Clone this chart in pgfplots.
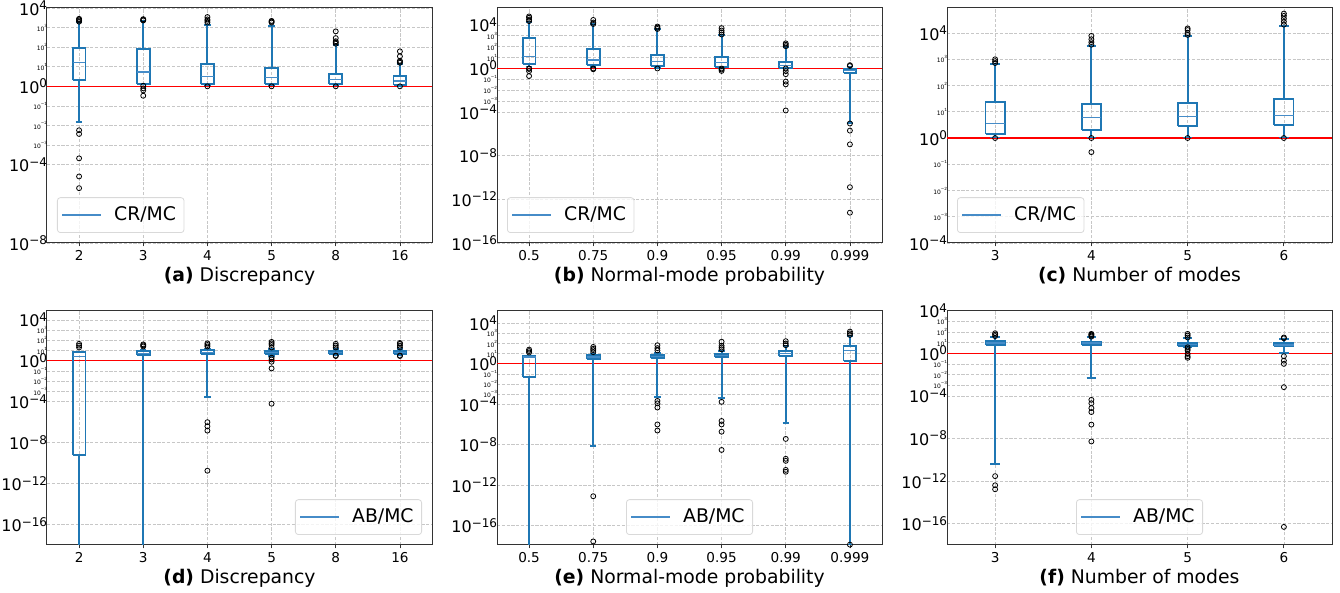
\documentclass[border=0pt]{standalone}
\usepackage{fontspec}
\setmainfont{DejaVu Sans}
\usepackage{pgfplots}
\pgfplotsset{compat=1.18}
\definecolor{mplblue}{RGB}{31,119,180}
\definecolor{legblue}{RGB}{70,140,200}

% tick labels: big (major) and tiny (minor) powers of ten
\newcommand{\Ma}[1]{\fontsize{8}{9}\selectfont 10\textsuperscript{#1}}
\newcommand{\Mi}[1]{\fontsize{3}{3.5}\selectfont 10\textsuperscript{#1}}

\pgfplotsset{
  mypanel/.style={
    scale only axis, width=192.5pt,
    xmin=0.5, xmax=6.5, xtick={1,...,6},
    yminorticks=false,
    axis line style={black!80, line width=0.5pt},
    tick pos=left, tick align=outside, major tick length=1.75pt,
    tick style={black!80, line width=0.4pt}, ytick style={draw=none},
    grid=major, major grid style={dash pattern=on 1.6pt off 0.8pt, black!22, line width=0.3pt},
    xticklabel style={font=\fontsize{6.8}{8}\selectfont, yshift=1.5pt},
    yticklabel style={inner xsep=1pt, xshift=3.5pt},
    xlabel style={font=\fontsize{9.4}{11}\selectfont, at={(axis description cs:0.5,0)}, anchor=north, yshift=-8.8pt},
    legend style={font=\fontsize{9.4}{11}\selectfont, draw=black!15, rounded corners=1.5pt,
      fill=white, fill opacity=0.8, text opacity=1, inner xsep=2pt, inner ysep=2.5pt},
  },
  bxl/.style={draw=mplblue, line width=0.95pt, unbounded coords=jump, forget plot},
  med/.style={draw=legblue, line width=0.65pt, unbounded coords=jump, forget plot},
  ol/.style={only marks, mark=o, mark size=1.25pt, mark options={draw=black, line width=0.4pt}, forget plot},
  one/.style={red, line width=0.6pt, forget plot},
  tkA/.style={ytick={1e-8,1e-4,1e-3,1e-2,1e-1,1,10,100,1000,1e4},
    yticklabels={\Ma{−8},\Ma{−4},\Mi{−3},\Mi{−2},\Mi{−1},\Ma{0},\Mi{1},\Mi{2},\Mi{3},\Ma{4}}},
  tkB/.style={ytick={1e-16,1e-12,1e-8,1e-4,1e-3,1e-2,1e-1,1,10,100,1000,1e4},
    yticklabels={\Ma{−16},\Ma{−12},\Ma{−8},\Ma{−4},\Mi{−3},\Mi{−2},\Mi{−1},\Ma{0},\Mi{1},\Mi{2},\Mi{3},\Ma{4}}},
  tkC/.style={ytick={1e-4,1e-3,1e-2,1e-1,1,10,100,1000,1e4},
    yticklabels={\Ma{−4},\Mi{−3},\Mi{−2},\Mi{−1},\Ma{0},\Mi{1},\Mi{2},\Mi{3},\Ma{4}}},
}

\begin{document}
\begin{tikzpicture}
\useasboundingbox (0,0) rectangle (670pt,296.5pt);

% (a) CR/MC vs discrepancy
\begin{axis}[mypanel, ymode=log, at={(23.5pt,175pt)}, anchor=south west, height=117.5pt,
  ymin=1e-8, ymax=1e4, tkA,
  xticklabels={2,3,4,5,8,16}, xlabel={\textbf{(a)} Discrepancy},
  legend style={at={(0,0)}, anchor=south west, xshift=5pt, yshift=5pt}]
\addplot[one] coordinates {(0.5,1) (6.5,1)};
\addplot[bxl] coordinates {(0.9,2.2)(1.1,2.2)(1.1,93)(0.9,93)(0.9,2.2) (1,nan) (1,93)(1,1900) (1,nan) (0.95,1900)(1.05,1900) (1,nan) (1,2.2)(1,0.0158) (1,nan) (0.95,0.0158)(1.05,0.0158)};
\addplot[bxl] coordinates {(1.9,1.37)(2.1,1.37)(2.1,80)(1.9,80)(1.9,1.37) (2,nan) (2,80)(2,2200) (2,nan) (1.95,2200)(2.05,2200) (2,nan) (2,1.37)(2,1.25) (2,nan) (1.95,1.25)(2.05,1.25)};
\addplot[bxl] coordinates {(2.9,1.37)(3.1,1.37)(3.1,13.8)(2.9,13.8)(2.9,1.37) (3,nan) (3,13.8)(3,1400) (3,nan) (2.95,1400)(3.05,1400) (3,nan) (3,1.37)(3,1.1) (3,nan) (2.95,1.1)(3.05,1.1)};
\addplot[bxl] coordinates {(3.9,1.3)(4.1,1.3)(4.1,8.3)(3.9,8.3)(3.9,1.3) (4,nan) (4,8.3)(4,1150) (4,nan) (3.95,1150)(4.05,1150) (4,nan) (4,1.3)(4,1.1) (4,nan) (3.95,1.1)(4.05,1.1)};
\addplot[bxl] coordinates {(4.9,1.27)(5.1,1.27)(5.1,4.1)(4.9,4.1)(4.9,1.27) (5,nan) (5,4.1)(5,130) (5,nan) (4.95,130)(5.05,130) (5,nan) (5,1.27)(5,1.1) (5,nan) (4.95,1.1)(5.05,1.1)};
\addplot[bxl] coordinates {(5.9,1.17)(6.1,1.17)(6.1,3.2)(5.9,3.2)(5.9,1.17) (6,nan) (6,3.2)(6,14) (6,nan) (5.95,14)(6.05,14) (6,nan) (6,1.17)(6,1.05) (6,nan) (5.95,1.05)(6.05,1.05)};
\addplot[med] coordinates {(0.9,16.7)(1.1,16.7) (1,nan) (1.9,5.4)(2.1,5.4) (2,nan) (2.9,3.2)(3.1,3.2) (3,nan) (3.9,2.9)(4.1,2.9) (4,nan) (4.9,2.2)(5.1,2.2) (5,nan) (5.9,1.9)(6.1,1.9)};
\addplot[ol] table[row sep=\\] {x y\\ 1 2000\\ 1 2300\\ 1 2600\\ 1 2800\\ 1 0.0057\\ 1 0.0037\\ 1 2.1e-4\\ 1 2.5e-5\\ 1 6.3e-6\\
  2 2300\\ 2 2500\\ 2 2700\\ 2 1.07\\ 2 0.79\\ 2 0.62\\ 2 0.33\\
  3 1800\\ 3 2200\\ 3 2600\\ 3 3450\\ 3 1.0\\
  4 1800\\ 4 2000\\ 4 2200\\ 4 1.0\\
  5 150\\ 5 175\\ 5 200\\ 5 290\\ 5 640\\ 5 1.0\\
  6 16\\ 6 18\\ 6 20\\ 6 34\\ 6 61\\ 6 1.0\\};
\addlegendimage{draw=legblue, line width=0.75pt, xscale=1.15}
\addlegendentry{\hspace{4pt}CR/MC}
\end{axis}

% (b) CR/MC vs normal-mode probability
\begin{axis}[mypanel, ymode=log, at={(248.5pt,175pt)}, anchor=south west, height=117.5pt,
  ymin=1e-16, ymax=3.5e5, tkB,
  xticklabels={0.5,0.75,0.9,0.95,0.99,0.999}, xlabel={\textbf{(b)} Normal-mode probability},
  legend style={at={(0,0)}, anchor=south west, xshift=5pt, yshift=5pt}]
\addplot[one] coordinates {(0.5,1) (6.5,1)};
\addplot[bxl] coordinates {(0.9,2.5)(1.1,2.5)(1.1,630)(0.9,630)(0.9,2.5) (1,nan) (1,630)(1,1.8e4) (1,nan) (0.95,1.8e4)(1.05,1.8e4) (1,nan) (1,2.5)(1,1.5) (1,nan) (0.95,1.5)(1.05,1.5)};
\addplot[bxl] coordinates {(1.9,2)(2.1,2)(2.1,61)(1.9,61)(1.9,2) (2,nan) (2,61)(2,1.1e4) (2,nan) (1.95,1.1e4)(2.05,1.1e4) (2,nan) (2,2)(2,1.3) (2,nan) (1.95,1.3)(2.05,1.3)};
\addplot[bxl] coordinates {(2.9,1.6)(3.1,1.6)(3.1,18)(2.9,18)(2.9,1.6) (3,nan) (3,18)(3,3800) (3,nan) (2.95,3800)(3.05,3800) (3,nan) (3,1.6)(3,1.1) (3,nan) (2.95,1.1)(3.05,1.1)};
\addplot[bxl] coordinates {(3.9,1.4)(4.1,1.4)(4.1,12)(3.9,12)(3.9,1.4) (4,nan) (4,12)(4,1100) (4,nan) (3.95,1100)(4.05,1100) (4,nan) (4,1.4)(4,1.05) (4,nan) (3.95,1.05)(4.05,1.05)};
\addplot[bxl] coordinates {(4.9,1.15)(5.1,1.15)(5.1,4.1)(4.9,4.1)(4.9,1.15) (5,nan) (5,4.1)(5,90) (5,nan) (4.95,90)(5.05,90) (5,nan) (5,1.15)(5,1.02) (5,nan) (4.95,1.02)(5.05,1.02)};
\addplot[bxl] coordinates {(5.9,0.4)(6.1,0.4)(6.1,0.87)(5.9,0.87)(5.9,0.4) (6,nan) (6,0.87)(6,1.5) (6,nan) (5.95,1.5)(6.05,1.5) (6,nan) (6,0.4)(6,1e-5) (6,nan) (5.95,1e-5)(6.05,1e-5)};
\addplot[med] coordinates {(0.9,12)(1.1,12) (1,nan) (1.9,5.9)(2.1,5.9) (2,nan) (2.9,4.1)(3.1,4.1) (3,nan) (3.9,3.3)(4.1,3.3) (4,nan) (4.9,2)(5.1,2) (5,nan) (5.9,0.7)(6.1,0.7)};
\addplot[ol] table[row sep=\\] {x y\\ 1 2.2e4\\ 1 3e4\\ 1 4.5e4\\ 1 5.9e4\\ 1 1.0\\ 1 0.9\\ 1 0.57\\ 1 0.2\\
  2 1.2e4\\ 2 1.6e4\\ 2 2.8e4\\ 2 1.0\\ 2 0.85\\
  3 4200\\ 3 5500\\ 3 7000\\ 3 1.0\\
  4 1300\\ 4 2000\\ 4 3000\\ 4 5000\\ 4 1.0\\ 4 0.8\\ 4 0.6\\
  5 110\\ 5 150\\ 5 200\\ 5 1.0\\ 5 0.57\\ 5 0.3\\ 5 0.063\\ 5 0.035\\ 5 1.4e-4\\
  6 1.7\\ 6 2.0\\ 6 9e-6\\ 6 2e-6\\ 6 1.1e-7\\ 6 1.3e-11\\ 6 6e-14\\};
\addlegendimage{draw=legblue, line width=0.75pt, xscale=1.15}
\addlegendentry{\hspace{4pt}CR/MC}
\end{axis}

% (c) CR/MC vs number of modes
\begin{axis}[mypanel, ymode=log, at={(473.5pt,175pt)}, anchor=south west, height=117.5pt,
  ymin=1e-4, ymax=9e4, tkC,
  xmin=0.5, xmax=4.5, xtick={1,...,4}, xticklabels={3,4,5,6}, xlabel={\textbf{(c)} Number of modes},
  legend style={at={(0,0)}, anchor=south west, xshift=5pt, yshift=5pt}]
\addplot[one] coordinates {(0.5,1) (4.5,1)};
\addplot[bxl] coordinates {(0.9,1.38)(1.1,1.38)(1.1,23)(0.9,23)(0.9,1.38) (1,nan) (1,23)(1,650) (1,nan) (0.95,650)(1.05,650) (1,nan) (1,1.38)(1,1.05) (1,nan) (0.95,1.05)(1.05,1.05)};
\addplot[bxl] coordinates {(1.9,2.1)(2.1,2.1)(2.1,19.5)(1.9,19.5)(1.9,2.1) (2,nan) (2,19.5)(2,3100) (2,nan) (1.95,3100)(2.05,3100) (2,nan) (2,2.1)(2,1.05) (2,nan) (1.95,1.05)(2.05,1.05)};
\addplot[bxl] coordinates {(2.9,2.8)(3.1,2.8)(3.1,21)(2.9,21)(2.9,2.8) (3,nan) (3,21)(3,7800) (3,nan) (2.95,7800)(3.05,7800) (3,nan) (3,2.8)(3,1.05) (3,nan) (2.95,1.05)(3.05,1.05)};
\addplot[bxl] coordinates {(3.9,3.2)(4.1,3.2)(4.1,29.5)(3.9,29.5)(3.9,3.2) (4,nan) (4,29.5)(4,1.9e4) (4,nan) (3.95,1.9e4)(4.05,1.9e4) (4,nan) (4,3.2)(4,1.05) (4,nan) (3.95,1.05)(4.05,1.05)};
\addplot[med] coordinates {(0.9,3.5)(1.1,3.5) (1,nan) (1.9,6)(2.1,6) (2,nan) (2.9,6.8)(3.1,6.8) (3,nan) (3.9,7.2)(4.1,7.2)};
\addplot[ol] table[row sep=\\] {x y\\ 1 720\\ 1 850\\ 1 1000\\ 1 1.0\\
  2 3600\\ 2 4500\\ 2 5800\\ 2 7800\\ 2 1.0\\ 2 0.29\\
  3 8500\\ 3 1e4\\ 3 1.3e4\\ 3 1.5e4\\ 3 1.0\\
  4 2.1e4\\ 4 2.7e4\\ 4 3.5e4\\ 4 4.5e4\\ 4 5.5e4\\ 4 1.0\\};
\addlegendimage{draw=legblue, line width=0.75pt, xscale=1.15}
\addlegendentry{\hspace{4pt}CR/MC}
\end{axis}

% (d) AB/MC vs discrepancy
\begin{axis}[mypanel, ymode=log, at={(23.5pt,24pt)}, anchor=south west, height=117.2pt,
  ymin=1e-18, ymax=8e4, tkB,
  xticklabels={2,3,4,5,8,16}, xlabel={\textbf{(d)} Discrepancy},
  legend style={at={(1,0)}, anchor=south east, xshift=-5pt, yshift=5pt}]
\addplot[one] coordinates {(0.5,1) (6.5,1)};
\addplot[bxl] coordinates {(0.9,6e-10)(1.1,6e-10)(1.1,6.6)(0.9,6.6)(0.9,6e-10) (1,nan) (1,6.6)(1,8) (1,nan) (0.95,8)(1.05,8) (1,nan) (1,6e-10)(1,1e-22)};
\addplot[bxl] coordinates {(1.9,3.6)(2.1,3.6)(2.1,9)(1.9,9)(1.9,3.6) (2,nan) (2,9)(2,11) (2,nan) (1.95,11)(2.05,11) (2,nan) (2,3.6)(2,1e-22)};
\addplot[bxl] coordinates {(2.9,4.5)(3.1,4.5)(3.1,10.4)(2.9,10.4)(2.9,4.5) (3,nan) (3,10.4)(3,13) (3,nan) (2.95,13)(3.05,13) (3,nan) (3,4.5)(3,2.7e-4) (3,nan) (2.95,2.7e-4)(3.05,2.7e-4)};
\addplot[bxl] coordinates {(3.9,4.5)(4.1,4.5)(4.1,9.6)(3.9,9.6)(3.9,4.5) (4,nan) (4,9.6)(4,13) (4,nan) (3.95,13)(4.05,13) (4,nan) (4,4.5)(4,3) (4,nan) (3.95,3)(4.05,3)};
\addplot[bxl] coordinates {(4.9,4.2)(5.1,4.2)(5.1,9)(4.9,9)(4.9,4.2) (5,nan) (5,9)(5,13) (5,nan) (4.95,13)(5.05,13) (5,nan) (5,4.2)(5,3.5) (5,nan) (4.95,3.5)(5.05,3.5)};
\addplot[bxl] coordinates {(5.9,4.2)(6.1,4.2)(6.1,9)(5.9,9)(5.9,4.2) (6,nan) (6,9)(6,13) (6,nan) (5.95,13)(6.05,13) (6,nan) (6,4.2)(6,3.5) (6,nan) (5.95,3.5)(6.05,3.5)};
\addplot[med] coordinates {(0.9,2.5)(1.1,2.5) (1,nan) (1.9,5)(2.1,5) (2,nan) (2.9,6.6)(3.1,6.6) (3,nan) (3.9,6.6)(4.1,6.6) (4,nan) (4.9,6.4)(5.1,6.4) (5,nan) (5.9,6.4)(6.1,6.4)};
\addplot[ol] table[row sep=\\] {x y\\ 1 20\\ 1 30\\ 1 45\\
  2 25\\ 2 32\\ 2 40\\
  3 25\\ 3 35\\ 3 50\\ 3 1e-6\\ 3 4e-7\\ 3 1.5e-7\\ 3 1.8e-11\\
  4 20\\ 4 35\\ 4 50\\ 4 70\\ 4 2\\ 4 1.35\\ 4 0.8\\ 4 0.18\\ 4 6.3e-5\\
  5 20\\ 5 30\\ 5 45\\ 5 3.2\\ 5 2.9\\
  6 20\\ 6 30\\ 6 45\\ 6 55\\ 6 3.2\\ 6 2.9\\};
\addlegendimage{draw=legblue, line width=0.75pt, xscale=1.15}
\addlegendentry{\hspace{4pt}AB/MC}
\end{axis}

% (e) AB/MC vs normal-mode probability
\begin{axis}[mypanel, ymode=log, at={(248.5pt,24pt)}, anchor=south west, height=117.2pt,
  ymin=1.2e-18, ymax=1.8e5, tkB,
  xticklabels={0.5,0.75,0.9,0.95,0.99,0.999}, xlabel={\textbf{(e)} Normal-mode probability},
  legend style={at={(0.5,0)}, anchor=south, yshift=5pt}]
\addplot[one] coordinates {(0.5,1) (6.5,1)};
\addplot[bxl] coordinates {(0.9,0.05)(1.1,0.05)(1.1,5.4)(0.9,5.4)(0.9,0.05) (1,nan) (1,5.4)(1,6) (1,nan) (0.95,6)(1.05,6) (1,nan) (1,0.05)(1,1e-22)};
\addplot[bxl] coordinates {(1.9,3.2)(2.1,3.2)(2.1,6.8)(1.9,6.8)(1.9,3.2) (2,nan) (2,6.8)(2,9) (2,nan) (1.95,9)(2.05,9) (2,nan) (2,3.2)(2,6.8e-9) (2,nan) (1.95,6.8e-9)(2.05,6.8e-9)};
\addplot[bxl] coordinates {(2.9,3.7)(3.1,3.7)(3.1,8)(2.9,8)(2.9,3.7) (3,nan) (3,8)(3,12) (3,nan) (2.95,12)(3.05,12) (3,nan) (3,3.7)(3,5.4e-4) (3,nan) (2.95,5.4e-4)(3.05,5.4e-4)};
\addplot[bxl] coordinates {(3.9,4.6)(4.1,4.6)(4.1,10)(3.9,10)(3.9,4.6) (4,nan) (4,10)(4,20) (4,nan) (3.95,20)(4.05,20) (4,nan) (4,4.6)(4,4e-4) (4,nan) (3.95,4e-4)(4.05,4e-4)};
\addplot[bxl] coordinates {(4.9,5.8)(5.1,5.8)(5.1,18)(4.9,18)(4.9,5.8) (5,nan) (5,18)(5,60) (5,nan) (4.95,60)(5.05,60) (5,nan) (5,5.8)(5,1.3e-6) (5,nan) (4.95,1.3e-6)(5.05,1.3e-6)};
\addplot[bxl] coordinates {(5.9,2)(6.1,2)(6.1,58)(5.9,58)(5.9,2) (6,nan) (6,58)(6,600) (6,nan) (5.95,600)(6.05,600) (6,nan) (6,2)(6,1.35e-18) (6,nan) (5.95,1.35e-18)(6.05,1.35e-18)};
\addplot[med] coordinates {(0.9,4.5)(1.1,4.5) (1,nan) (1.9,4.6)(2.1,4.6) (2,nan) (2.9,5.5)(3.1,5.5) (3,nan) (3.9,6.5)(4.1,6.5) (4,nan) (4.9,10)(5.1,10) (5,nan) (5.9,21)(6.1,21)};
\addplot[ol] table[row sep=\\] {x y\\ 1 13\\ 1 18\\ 1 25\\
  2 14\\ 2 22\\ 2 30\\ 2 46\\ 2 8e-14\\ 2 2.7e-18\\
  3 21\\ 3 35\\ 3 68\\ 3 2.1e-4\\ 3 1.2e-4\\ 3 4.7e-5\\ 3 1e-6\\ 3 2.5e-7\\
  4 27\\ 4 40\\ 4 60\\ 4 150\\ 4 1.7e-4\\ 4 2.2e-6\\ 4 1e-6\\ 4 1.9e-7\\ 4 3e-9\\
  5 68\\ 5 100\\ 5 170\\ 5 3.7e-8\\ 5 4e-10\\ 5 2.5e-10\\ 5 3.2e-11\\ 5 2.1e-11\\
  6 700\\ 6 1000\\ 6 1500\\ 6 1.3e-18\\};
\addlegendimage{draw=legblue, line width=0.75pt, xscale=1.15}
\addlegendentry{\hspace{4pt}AB/MC}
\end{axis}

% (f) AB/MC vs number of modes
\begin{axis}[mypanel, ymode=log, at={(473.5pt,24pt)}, anchor=south west, height=117.2pt,
  ymin=1e-18, ymax=1e4, tkB,
  xmin=0.5, xmax=4.5, xtick={1,...,4}, xticklabels={3,4,5,6}, xlabel={\textbf{(f)} Number of modes},
  legend style={at={(0.5,0)}, anchor=south, yshift=5pt}]
\addplot[one] coordinates {(0.5,1) (4.5,1)};
\addplot[bxl] coordinates {(0.9,6)(1.1,6)(1.1,15.4)(0.9,15.4)(0.9,6) (1,nan) (1,15.4)(1,32) (1,nan) (0.95,32)(1.05,32) (1,nan) (1,6)(1,4e-11) (1,nan) (0.95,4e-11)(1.05,4e-11)};
\addplot[bxl] coordinates {(1.9,6)(2.1,6)(2.1,12.4)(1.9,12.4)(1.9,6) (2,nan) (2,12.4)(2,32) (2,nan) (1.95,32)(2.05,32) (2,nan) (2,6)(2,4.5e-3) (2,nan) (1.95,4.5e-3)(2.05,4.5e-3)};
\addplot[bxl] coordinates {(2.9,5.2)(3.1,5.2)(3.1,9.3)(2.9,9.3)(2.9,5.2) (3,nan) (3,9.3)(3,25) (3,nan) (2.95,25)(3.05,25) (3,nan) (3,5.2)(3,3.6) (3,nan) (2.95,3.6)(3.05,3.6)};
\addplot[bxl] coordinates {(3.9,4.5)(4.1,4.5)(4.1,8.7)(3.9,8.7)(3.9,4.5) (4,nan) (4,8.7)(4,22) (4,nan) (3.95,22)(4.05,22) (4,nan) (4,4.5)(4,1.15) (4,nan) (3.95,1.15)(4.05,1.15)};
\addplot[med] coordinates {(0.9,9.3)(1.1,9.3) (1,nan) (1.9,9)(2.1,9) (2,nan) (2.9,7)(3.1,7) (3,nan) (3.9,6)(4.1,6)};
\addplot[ol] table[row sep=\\] {x y\\ 1 40\\ 1 55\\ 1 75\\ 1 2.9e-12\\ 1 4e-13\\ 1 1.7e-13\\
  2 36\\ 2 45\\ 2 55\\ 2 65\\ 2 4.2e-5\\ 2 2e-5\\ 2 7e-6\\ 2 3e-6\\ 2 2e-7\\ 2 5.2e-9\\
  3 30\\ 3 45\\ 3 65\\ 3 3.6\\ 3 2.5\\ 3 1.8\\ 3 0.87\\ 3 0.52\\ 3 0.37\\
  4 25\\ 4 30\\ 4 0.52\\ 4 0.2\\ 4 0.1\\ 4 6.5e-4\\ 4 5e-17\\};
\addlegendimage{draw=legblue, line width=0.75pt, xscale=1.15}
\addlegendentry{\hspace{4pt}AB/MC}
\end{axis}
\end{tikzpicture}
\end{document}
